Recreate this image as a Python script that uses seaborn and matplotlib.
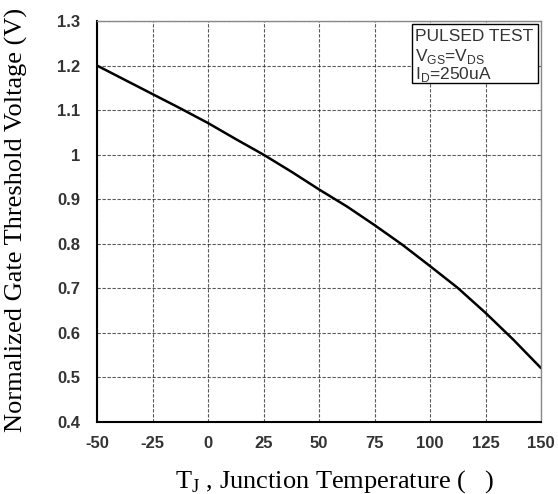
import matplotlib
matplotlib.use("Agg")
import matplotlib.pyplot as plt
import seaborn as sns
import pandas as pd
from matplotlib.patches import Rectangle

# Data
temperature = [-50, -37.5, -25, -12.5, 0, 12.5, 25, 37.5, 50, 62.5, 75, 87.5,
               100, 112.5, 125, 137.5, 150]
vth_norm = [1.200, 1.168, 1.136, 1.104, 1.071, 1.035, 1.000, 0.962, 0.922,
            0.884, 0.842, 0.798, 0.750, 0.701, 0.645, 0.585, 0.521]

x_ticks = [-50, -25, 0, 25, 50, 75, 100, 125, 150]
x_tick_labels = ["-50", "-25", "0", "25", "50", "75", "100", "125", "150"]
y_ticks = [0.4, 0.5, 0.6, 0.7, 0.8, 0.9, 1.0, 1.1, 1.2, 1.3]
y_tick_labels = ["0.4", "0.5", "0.6", "0.7", "0.8", "0.9", "1", "1.1", "1.2", "1.3"]

legend_lines = ["PULSED TEST", r"V$_\mathregular{GS}$=V$_\mathregular{DS}$", r"I$_\mathregular{D}$=250uA"]
x_label = r"T$_\mathregular{J}$ , Junction Temperature (   )"
y_label = "Normalized Gate Threshold Voltage (V)"

df = pd.DataFrame({"T": temperature, "V": vth_norm})

sns.set_theme(style="white")
plt.rcParams["axes.unicode_minus"] = False
plt.rcParams["font.family"] = ["Liberation Sans", "DejaVu Sans"]

fig = plt.figure(figsize=(5.58, 4.94), dpi=100)
ax = fig.add_axes([97 / 558, 1 - 422 / 494, 444 / 558, 401 / 494])

sns.lineplot(data=df, x="T", y="V", ax=ax, color="black", linewidth=1.8)

ax.set_xlim(-50, 150)
ax.set_ylim(0.4, 1.3)
ax.set_xticks(x_ticks)
ax.set_xticklabels(x_tick_labels)
ax.set_yticks(y_ticks)
ax.set_yticklabels(y_tick_labels)
for lab in ax.get_xticklabels() + ax.get_yticklabels():
    lab.set_fontweight("bold")
    lab.set_fontsize(12)
    lab.set_color("#333333")
ax.tick_params(axis="both", length=0)
ax.tick_params(axis="x", pad=10)
ax.tick_params(axis="y", pad=12)

ax.grid(True, color="#222222", linestyle=(0, (3, 1.5)), linewidth=0.8, alpha=0.75)
ax.set_axisbelow(True)

for s in ["left", "bottom"]:
    ax.spines[s].set_color("black")
    ax.spines[s].set_linewidth(1.5)
for s in ["top", "right"]:
    ax.spines[s].set_color("#888888")
    ax.spines[s].set_linewidth(1.0)

ax.set_xlabel(x_label, family="Liberation Serif", fontsize=19, color="black")
ax.set_ylabel(y_label, family="Liberation Serif", fontsize=19, color="black")
ax.xaxis.label.set_va("baseline")
ax.xaxis.set_label_coords((335 - 97) / 444, -(488 - 422) / 401)
ax.yaxis.set_label_coords(-(97 - 28) / 444, 1 - (220 - 21) / 401)

# annotation box
ax.add_patch(Rectangle((0.709, 0.846), 0.284, 0.146, transform=ax.transAxes,
                       facecolor="white", edgecolor="black", linewidth=1.0, zorder=5))
ys = [0.961, 0.911, 0.866]
for t, yy in zip(legend_lines, ys):
    ax.text(0.716, yy, t, transform=ax.transAxes, fontsize=12.5, color="#333333",
            va="center", ha="left", zorder=6)

fig.savefig("out.png", dpi=100)
